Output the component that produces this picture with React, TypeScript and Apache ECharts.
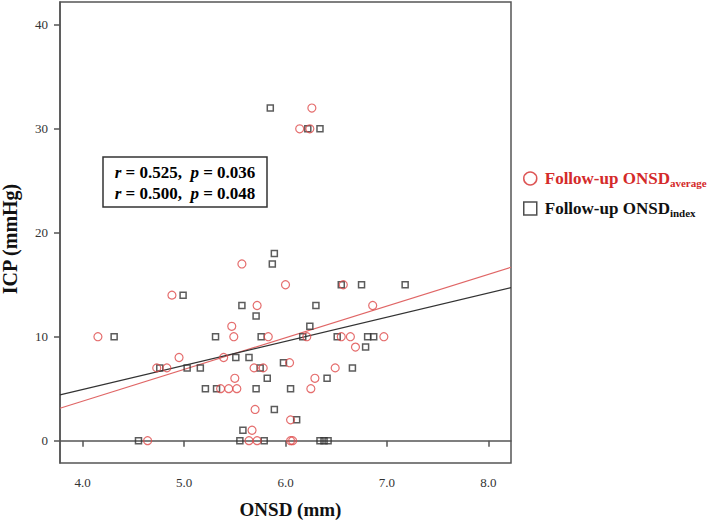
import React, { useEffect, useRef } from "react";
import * as echarts from "echarts";

const xTicks = [4, 5, 6, 7, 8];
const yTicks = [0, 10, 20, 30, 40];
const xRange = [3.776, 8.224];
const yRange = [-2.15, 42.2];

const averageName = "Follow-up ONSD average";
const indexName = "Follow-up ONSD index";

const averageX = [4.15, 4.64, 4.73, 4.83, 4.88, 4.95, 5.36, 5.44, 5.52, 5.39, 5.47, 5.49, 5.5, 5.57, 5.67, 5.64, 5.72, 5.7, 5.72, 5.69, 5.78, 5.83, 6.0, 6.04, 6.05, 6.05, 6.07, 6.21, 6.25, 6.29, 6.49, 6.55, 6.57, 6.64, 6.69, 6.86, 6.97, 6.26, 6.14, 6.24];
const averageY = [10, 0, 7, 7, 14, 8, 5, 5, 5, 8, 11, 10, 6, 17, 1, 0, 0, 3, 13, 7, 7, 10, 15, 7.5, 2, 0, 0, 10, 5, 6, 7, 10, 15, 10, 9, 13, 10, 32, 30, 30];

const indexX = [4.31, 4.55, 4.76, 4.99, 5.03, 5.16, 5.21, 5.31, 5.32, 5.51, 5.57, 5.55, 5.58, 5.64, 5.71, 5.71, 5.75, 5.76, 5.79, 5.82, 5.89, 5.89, 5.87, 5.98, 6.05, 6.11, 6.17, 6.24, 6.3, 6.41, 6.51, 6.55, 6.66, 6.34, 6.38, 6.42, 6.75, 7.18, 6.81, 6.87, 6.79, 5.85, 6.22, 6.34];
const indexY = [10, 0, 7, 14, 7, 7, 5, 10, 5, 8, 13, 0, 1, 8, 12, 5, 7, 10, 0, 6, 3, 18, 17, 7.5, 5, 2, 10, 11, 13, 6, 10, 15, 7, 0, 0, 0, 15, 15, 10, 10, 9, 32, 30, 30];

// fitted lines: [intercept, slope]
const averageFit = [-8.4, 3.05];
const indexFit = [-4.36, 2.32];

const statsAverage = ["0.525", "0.036"];
const statsIndex = ["0.500", "0.048"];

const RED = "#d42a2a";
const RED_MARK = "#de4a4a";
const RED_LINE = "#e06666";
const DARK = "#333333";
const AXIS = "#555555";
const FONT = "Liberation Serif";

export default function App() {
  const ref = useRef<HTMLDivElement>(null);
  useEffect(() => {
    document.body.style.margin = "0";
    if (!ref.current) return;
    const chart = echarts.init(ref.current, null, { renderer: "svg" });
    const fitLine = (f: number[]) =>
      xRange.map((x) => [x, f[0] + f[1] * x]);
    const statRich = (color: string) => ({
      n: { fontFamily: FONT, fontSize: 17, fontWeight: "bold", color },
      i: { fontFamily: FONT, fontSize: 17, fontWeight: "bold", fontStyle: "italic", color },
    });
    chart.setOption({
      animation: false,
      backgroundColor: "#ffffff",
      grid: {
        left: 60,
        top: 2,
        width: 451,
        height: 461,
        containLabel: false,
        outerBoundsMode: "none",
        show: true,
        borderColor: AXIS,
        borderWidth: 1.5,
        backgroundColor: "transparent",
      },
      xAxis: {
        type: "value",
        min: xRange[0],
        max: xRange[1],
        splitLine: { show: false },
        axisLine: { show: true, lineStyle: { color: AXIS, width: 1.5 } },
        axisTick: { show: true, inside: false, length: 6, customValues: xTicks, lineStyle: { color: AXIS, width: 1.5 } },
        axisLabel: {
          customValues: xTicks,
          formatter: (v: number) => v.toFixed(1),
          fontFamily: FONT,
          fontSize: 13,
          color: DARK,
          margin: 13,
        },
        name: "ONSD (mm)",
        nameLocation: "middle",
        nameGap: 37,
        nameTextStyle: { fontFamily: FONT, fontSize: 19, fontWeight: "bold", color: "#111", padding: [0, 0, 0, 10] },
      },
      yAxis: {
        type: "value",
        min: yRange[0],
        max: yRange[1],
        splitLine: { show: false },
        axisLine: { show: true, lineStyle: { color: AXIS, width: 1.5 } },
        axisTick: { show: true, inside: false, length: 6, customValues: yTicks, lineStyle: { color: AXIS, width: 1.5 } },
        axisLabel: {
          customValues: yTicks,
          fontFamily: FONT,
          fontSize: 13,
          color: DARK,
          margin: 12,
        },
        name: "ICP (mmHg)",
        nameLocation: "middle",
        nameGap: 40,
        nameTextStyle: { fontFamily: FONT, fontSize: 20, fontWeight: "bold", color: "#111", padding: [0, 13, 0, 0] },
      },
      legend: {
        orient: "vertical",
        left: 523,
        top: 170,
        itemWidth: 13,
        itemHeight: 13,
        itemGap: 11.5,
        padding: 0,
        data: [
          { name: averageName, icon: "circle", itemStyle: { color: "transparent", borderColor: RED, borderWidth: 1.5 } },
          { name: indexName, icon: "rect", itemStyle: { color: "transparent", borderColor: "#222", borderWidth: 1.5 } },
        ],
        formatter: (name: string) =>
          name === averageName
            ? "{rm|Follow-up ONSD}{rs|average}"
            : "{km|Follow-up ONSD}{ks|index}",
        textStyle: {
          fontFamily: FONT,
          rich: {
            rm: { fontFamily: FONT, fontSize: 17, fontWeight: "bold", color: RED, lineHeight: 20, padding: [0, 0, 0, 3] },
            rs: { fontFamily: FONT, fontSize: 11, fontWeight: "bold", color: RED, lineHeight: 12, verticalAlign: "bottom" },
            km: { fontFamily: FONT, fontSize: 17, fontWeight: "bold", color: "#111", lineHeight: 20, padding: [0, 0, 0, 3] },
            ks: { fontFamily: FONT, fontSize: 11, fontWeight: "bold", color: "#111", lineHeight: 12, verticalAlign: "bottom" },
          },
        },
      },
      graphic: [
        {
          type: "group",
          children: [
            {
              type: "rect",
              shape: { x: 103, y: 157, width: 164, height: 50 },
              style: { fill: "#ffffff", stroke: DARK, lineWidth: 1.5 },
            },
            {
              type: "text",
              x: 185,
              y: 172,
              style: {
                text: `{i|r}{n| = ${statsAverage[0]},  }{i|p}{n| = ${statsAverage[1]}}`,
                rich: statRich(RED),
                align: "center",
                verticalAlign: "middle",
              },
            },
            {
              type: "text",
              x: 185,
              y: 193,
              style: {
                text: `{i|r}{n| = ${statsIndex[0]},  }{i|p}{n| = ${statsIndex[1]}}`,
                rich: statRich("#111"),
                align: "center",
                verticalAlign: "middle",
              },
            },
          ],
        },
      ],
      series: [
        {
          name: averageName + " fit",
          type: "line",
          data: fitLine(averageFit),
          symbol: "none",
          lineStyle: { color: RED_LINE, width: 1.2 },
          silent: true,
          z: 1,
        },
        {
          name: indexName + " fit",
          type: "line",
          data: fitLine(indexFit),
          symbol: "none",
          lineStyle: { color: DARK, width: 1.2 },
          silent: true,
          z: 1,
        },
        {
          name: averageName,
          type: "scatter",
          symbol: "circle",
          symbolSize: 8,
          data: averageX.map((x, i) => [x, averageY[i]]),
          itemStyle: { color: "transparent", borderColor: RED_MARK, borderWidth: 1.2 },
          z: 3,
        },
        {
          name: indexName,
          type: "scatter",
          symbol: "rect",
          symbolSize: 6,
          data: indexX.map((x, i) => [x, indexY[i]]),
          itemStyle: { color: "transparent", borderColor: "#333", borderWidth: 1.5 },
          z: 2,
        },
      ],
    });
    return () => chart.dispose();
  }, []);
  return <div ref={ref} style={{ width: 709, height: 522 }} />;
}
